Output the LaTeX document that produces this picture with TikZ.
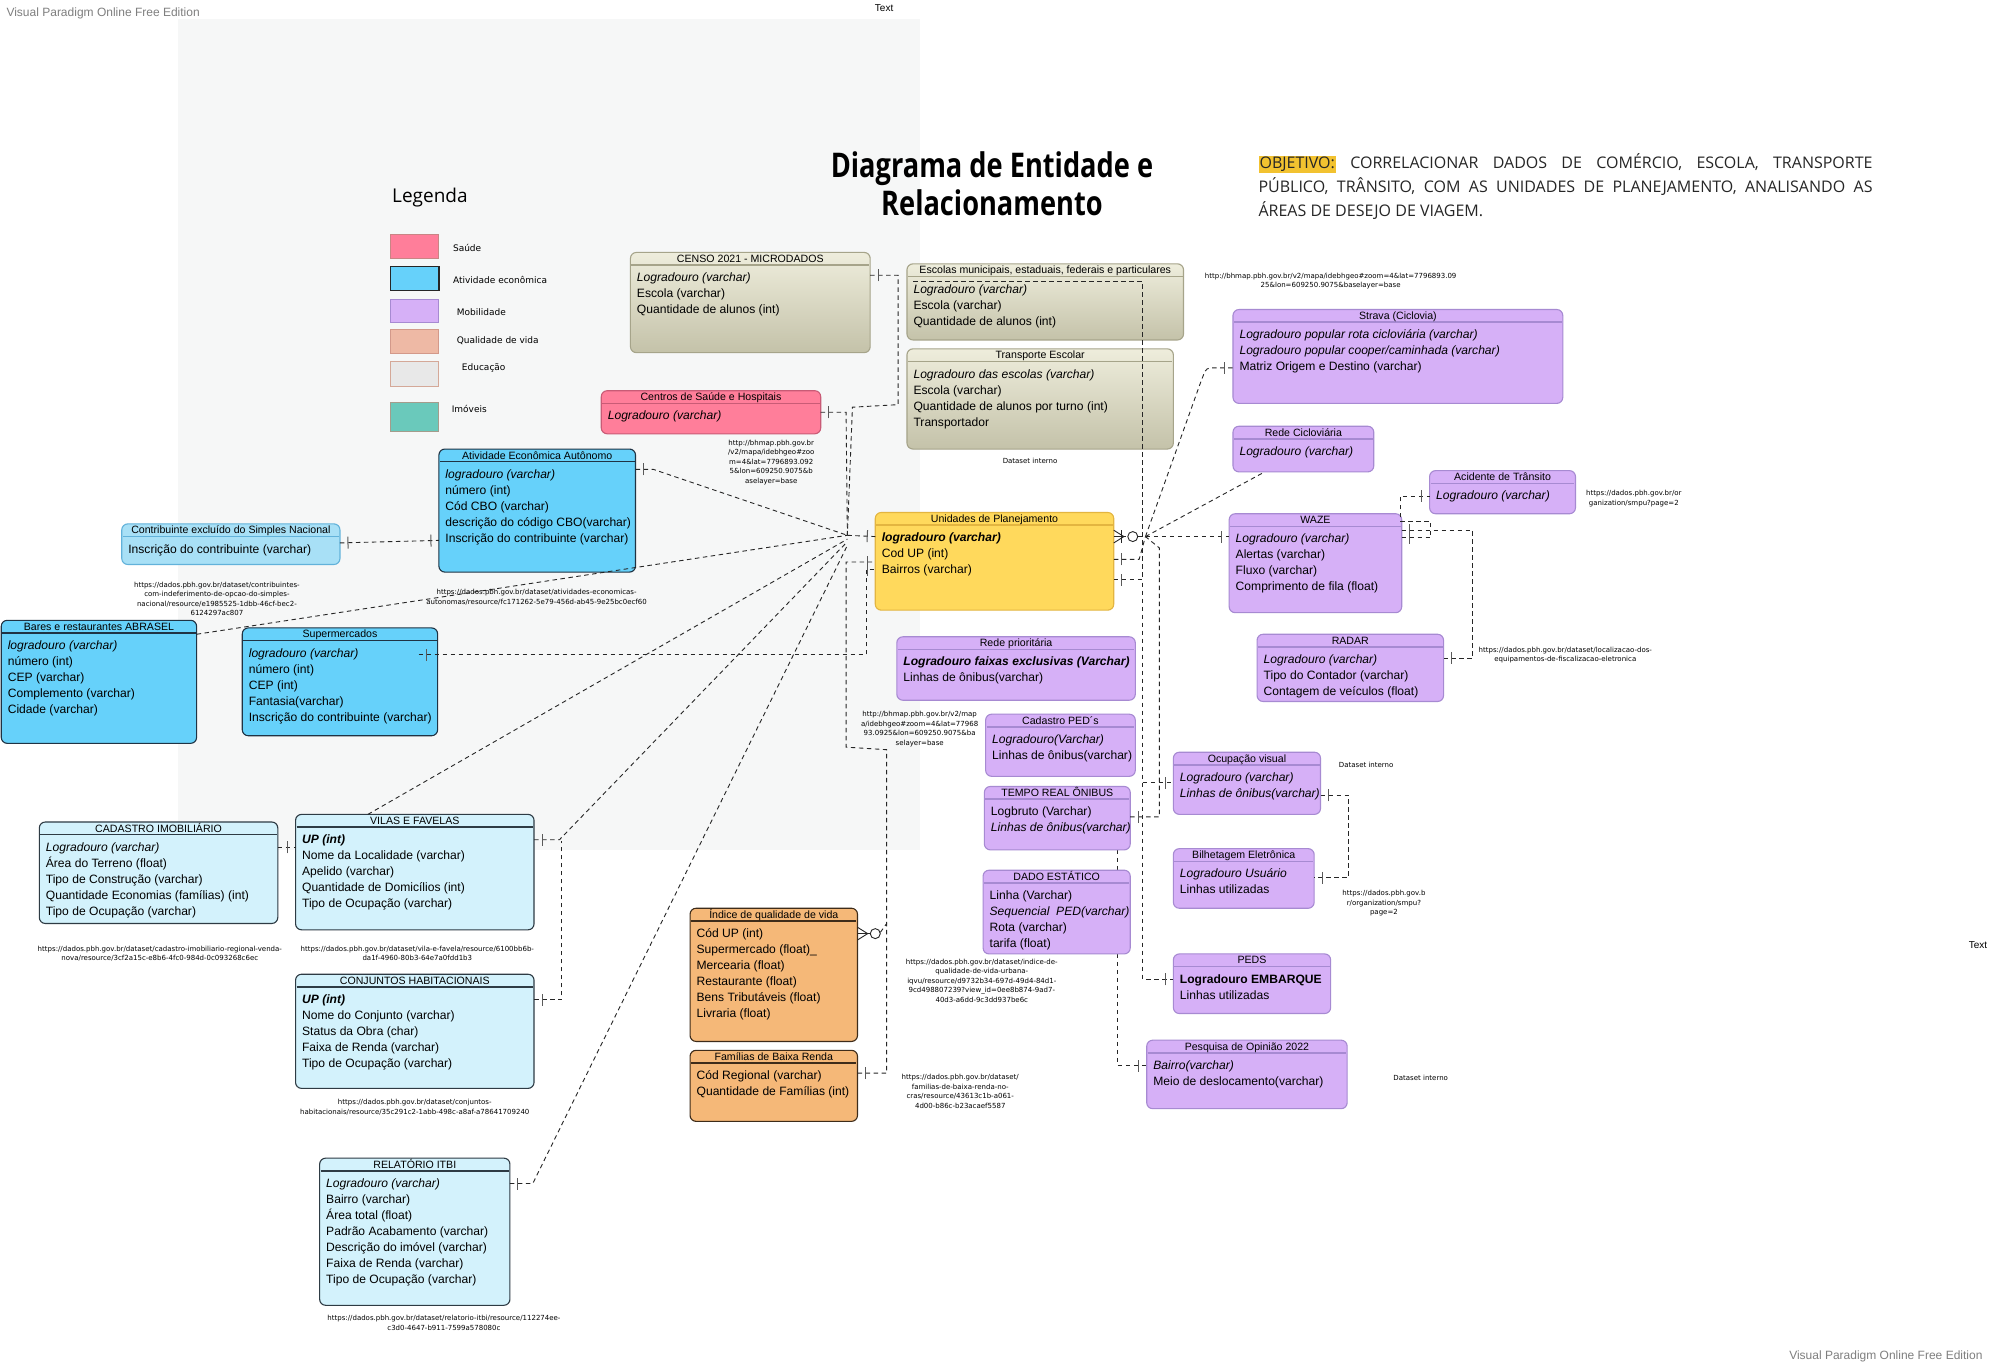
\documentclass[tikz,border=0pt]{standalone}
\usepackage{fontspec}
\setmainfont{Liberation Sans}
\newfontfamily\hdrf{Liberation Sans}
\newfontfamily\smallf{DejaVu Sans}
\newfontfamily\osf{Open Sans}
\newfontfamily\ttlf{Open Sans}[FakeStretch=0.8]
\usetikzlibrary{calc,fit,decorations.markings}
\pgfdeclarelayer{bg}
\pgfsetlayers{bg,main}
\definecolor{lavF}{HTML}{D6B0F7}
\definecolor{lavB}{HTML}{A78AD2}
\definecolor{cyF}{HTML}{66D1FA}
\definecolor{cyB}{HTML}{1F3344}
\definecolor{lcF}{HTML}{D3F2FC}
\definecolor{lcB}{HTML}{2E3B44}
\definecolor{cbF}{HTML}{A8E0F6}
\definecolor{cbB}{HTML}{62B2DA}
\definecolor{ylF}{HTML}{FFD95C}
\definecolor{ylB}{HTML}{E3B540}
\definecolor{pkF}{HTML}{FF7E9A}
\definecolor{pkB}{HTML}{C95B76}
\definecolor{ogF}{HTML}{F5B878}
\definecolor{ogB}{HTML}{3E2C1A}
\definecolor{begT}{HTML}{EEEDDC}
\definecolor{begBot}{HTML}{C4C2A9}
\definecolor{begB}{HTML}{A6A48A}
\definecolor{hiY}{HTML}{F2C230}
\definecolor{vpg}{HTML}{7F7F7F}
\definecolor{paper}{HTML}{F6F7F7}
\newcommand\hdrfont{\hdrf\fontsize{10.6}{12}\selectfont}
\newcommand\rowsfont{\fontsize{12.1}{16}\selectfont}
\newcommand\urlfont{\smallf\fontsize{7}{9.5}\selectfont}
\newcommand\entity[8]{%
  \node[#6, fit={(#2,#3) (#4,#5)}] (#1) {};
  \draw[draw=#6B, line width=1.5pt] ($(#1.north west)+(0.8,10)$) -- ($(#1.north east)+(-0.8,10)$);
  \node[anchor=base, inner sep=0pt, font=\hdrfont] (#1-t) at ($(#1.north)+(0,7.9)$) {#7};
  \node[anchor=base west, inner sep=0pt, font=\rowsfont] (#1-r) at ($(#1.north west)+(5,23)$) {\begin{tabular}[t]{@{}l@{}}#8\end{tabular}};
}
\newcommand\urltext[4]{%
  \node[anchor=base, inner sep=0pt, font=\urlfont] (#1) at (#2,#3) {\begin{tabular}[t]{@{}c@{}}#4\end{tabular}};
}
\begin{document}
\begin{tikzpicture}[x=1.2685pt,y=-1.2685pt,
  ent/.style={rounded corners=6pt, line width=1.1pt, inner sep=0pt, outer sep=0pt},
  lav/.style={ent, draw=lavB, fill=lavF},
  cy/.style={ent, draw=cyB, fill=cyF},
  lc/.style={ent, draw=lcB, fill=lcF},
  cb/.style={ent, draw=cbB, fill=cbF},
  yl/.style={ent, draw=ylB, fill=ylF},
  pk/.style={ent, draw=pkB, fill=pkF},
  og/.style={ent, draw=ogB, fill=ogF},
  beg/.style={ent, draw=begB, top color=begT, bottom color=begBot},
  conn/.style={line width=0.9pt, dash pattern=on 4.5pt off 3.5pt, draw=black!85},
  sbar/.style={postaction={decorate,decoration={markings,mark=at position 8pt with {\draw[solid,line width=1pt,black!65] (0,-6pt)--(0,6pt);}}}},
  ebar/.style={postaction={decorate,decoration={markings,mark=at position -8pt with {\draw[solid,line width=1pt,black!65] (0,-6pt)--(0,6pt);}}}},
  swatch/.style={inner sep=0pt, outer sep=0pt, line width=1pt},
  lgtext/.style={anchor=base west, inner sep=0pt, font=\smallf\fontsize{9}{11}\selectfont},
  crow/.style={line width=0.9pt, draw=black!85},
]
\useasboundingbox (0,0) rectangle (1568,1075);
\begin{pgfonlayer}{bg}
\fill[white] (0,0) rectangle (1568,1075);
\fill[paper] (140,15) rectangle (725,670);
\end{pgfonlayer}

% header texts
\node[anchor=base west, inner sep=0pt, font=\fontsize{12}{14}\selectfont, text=vpg] (vp1) at (5,13) {Visual Paradigm Online Free Edition};
\node[anchor=base east, inner sep=0pt, font=\fontsize{12}{14}\selectfont, text=vpg] (vp2) at (1563,1072) {Visual Paradigm Online Free Edition};
\node[anchor=base, inner sep=0pt, font=\fontsize{10}{12}\selectfont] (txt1) at (697,9) {Text};
\node[anchor=base west, inner sep=0pt, font=\fontsize{10}{12}\selectfont] (txt2) at (1552,748) {Text};

\node[anchor=base, inner sep=0pt, font=\ttlf\bfseries\fontsize{34}{38}\selectfont] (title1) at (782,140) {Diagrama de Entidade e};
\node[anchor=base, inner sep=0pt, font=\ttlf\bfseries\fontsize{34}{38}\selectfont] (title2) at (782,170) {Relacionamento};

\node[anchor=base west, inner sep=0pt, font=\osf\fontsize{16}{24.1}\selectfont, text=black!85] (obj) at (992,133)
 {\parbox[t]{614pt}{{\setlength{\fboxsep}{1pt}\colorbox{hiY}{OBJETIVO:}} CORRELACIONAR DADOS DE COMÉRCIO, ESCOLA, TRANSPORTE\linebreak PÚBLICO, TRÂNSITO, COM AS UNIDADES DE PLANEJAMENTO, ANALISANDO AS\linebreak ÁREAS DE DESEJO DE VIAGEM.}};

% legend
\node[anchor=base west, inner sep=0pt, font=\osf\fontsize{19}{22}\selectfont] (legt) at (309,160) {Legenda};
\node[swatch, fill=pkF, draw={rgb,255:red,201;green,133;blue,133}, fit={(308,185) (346,204)}] (lg1) {};
\node[swatch, fill=cyF, draw=black!85, line width=1.3pt, fit={(308,210) (346,229)}] (lg2) {};
\node[swatch, fill=lavF, draw=lavB, fit={(308,236) (346,254)}] (lg3) {};
\node[swatch, fill={rgb,255:red,238;green,185;blue,165}, draw={rgb,255:red,211;green,153;blue,138}, fit={(308,260) (346,279)}] (lg4) {};
\node[swatch, fill=black!9, draw={rgb,255:red,212;green,168;blue,152}, fit={(308,285) (346,305)}] (lg5) {};
\node[swatch, fill={rgb,255:red,106;green,201;blue,187}, draw={rgb,255:red,164;green,156;blue,140}, fit={(308,317) (346,340)}] (lg6) {};
\node[lgtext] (lt1) at (357,198) {Saúde};
\node[lgtext] (lt2) at (357,223.5) {Atividade econômica};
\node[lgtext] (lt3) at (360,249) {Mobilidade};
\node[lgtext] (lt4) at (360,271) {Qualidade de vida};
\node[lgtext] (lt5) at (364,292) {Educação};
\node[lgtext] (lt6) at (356,325) {Imóveis};

% entities
\entity{censo}{497}{199}{686}{278}{beg}{CENSO 2021 - MICRODADOS}{\textit{Logradouro (varchar)}\\Escola (varchar)\\Quantidade de alunos (int)}
\entity{escolas}{715}{208}{933}{268}{beg}{Escolas municipais, estaduais, federais e particulares}{\textit{Logradouro (varchar)}\\Escola (varchar)\\Quantidade de alunos (int)}
\entity{transp}{715}{275}{925}{354}{beg}{Transporte Escolar}{\textit{Logradouro das escolas (varchar)}\\Escola (varchar)\\Quantidade de alunos por turno (int)\\Transportador}
\entity{centros}{474}{308}{647}{342}{pk}{Centros de Saúde e Hospitais}{\textit{Logradouro (varchar)}}
\entity{ativ}{346}{354}{501}{451}{cy}{Atividade Econômica Autônomo}{\textit{logradouro (varchar)}\\número (int)\\Cód CBO (varchar)\\descrição do código CBO(varchar)\\Inscrição do contribuinte (varchar)}
\entity{contrib}{96}{413}{268}{445}{cb}{Contribuinte excluído do Simples Nacional}{Inscrição do contribuinte (varchar)}
\entity{bares}{1}{489}{155}{586}{cy}{Bares e restaurantes ABRASEL}{\textit{logradouro (varchar)}\\número (int)\\CEP (varchar)\\Complemento (varchar)\\Cidade (varchar)}
\entity{super}{191}{495}{345}{580}{cy}{Supermercados}{\textit{logradouro (varchar)}\\número (int)\\CEP (int)\\Fantasia(varchar)\\Inscrição do contribuinte (varchar)}
\entity{up}{690}{404}{878}{481}{yl}{Unidades de Planejamento}{\textbf{\textit{logradouro (varchar)}}\\Cod UP (int)\\Bairros (varchar)}
\entity{rede}{707}{502}{895}{552}{lav}{Rede prioritária}{\textbf{\textit{Logradouro faixas exclusivas (Varchar)}}\\Linhas de ônibus(varchar)}
\entity{cadped}{777}{563}{895}{612}{lav}{Cadastro PED´s}{\textit{Logradouro(Varchar)}\\Linhas de ônibus(varchar)}
\entity{tempo}{776}{620}{891}{670}{lav}{TEMPO REAL ÔNIBUS}{Logbruto (Varchar)\\\textit{Linhas de ônibus(varchar)}}
\entity{dado}{775}{686}{891}{752}{lav}{DADO ESTÁTICO}{Linha (Varchar)\\\textit{Sequencial\ \ PED(varchar)}\\Rota (varchar)\\tarifa (float)}
\entity{ocup}{925}{593}{1041}{642}{lav}{Ocupação visual}{\textit{Logradouro (varchar)}\\\textit{Linhas de ônibus(varchar)}}
\entity{bilh}{925}{669}{1036}{716}{lav}{Bilhetagem Eletrônica}{\textit{Logradouro Usuário}\\Linhas utilizadas}
\entity{peds}{925}{752}{1049}{799}{lav}{PEDS}{\textbf{Logradouro EMBARQUE}\\Linhas utilizadas}
\entity{pesq}{904}{820}{1062}{874}{lav}{Pesquisa de Opinião 2022}{\textit{Bairro(varchar)}\\Meio de deslocamento(varchar)}
\entity{indice}{544}{716}{676}{821}{og}{Índice de qualidade de vida}{Cód UP (int)\\Supermercado (float)\_\\Mercearia (float)\\Restaurante (float)\\Bens Tributáveis (float)\\Livraria (float)}
\entity{famil}{544}{828}{676}{884}{og}{Famílias de Baixa Renda}{Cód Regional (varchar)\\Quantidade de Famílias (int)}
\entity{strava}{972}{244}{1232}{318}{lav}{Strava (Ciclovia)}{\textit{Logradouro popular rota cicloviária (varchar)}\\\textit{Logradouro popular cooper/caminhada (varchar)}\\Matriz Origem e Destino (varchar)}
\entity{redeciclo}{972}{336}{1083}{372}{lav}{Rede Cicloviária}{\textit{Logradouro (varchar)}}
\entity{acid}{1127}{371}{1242}{405}{lav}{Acidente de Trânsito}{\textit{Logradouro (varchar)}}
\entity{waze}{969}{405}{1105}{483}{lav}{WAZE}{\textit{Logradouro (varchar)}\\Alertas (varchar)\\Fluxo (varchar)\\Comprimento de fila (float)}
\entity{radar}{991}{500}{1138}{553}{lav}{RADAR}{\textit{Logradouro (varchar)}\\Tipo do Contador (varchar)\\Contagem de veículos (float)}
\entity{cadimob}{31}{648}{219}{728}{lc}{CADASTRO IMOBILIÁRIO}{\textit{Logradouro (varchar)}\\Área do Terreno (float)\\Tipo de Construção (varchar)\\Quantidade Economias (famílias) (int)\\Tipo de Ocupação (varchar)}
\entity{vilas}{233}{642}{421}{733}{lc}{VILAS E FAVELAS}{\textbf{\textit{UP (int)}}\\Nome da Localidade (varchar)\\Apelido (varchar)\\Quantidade de Domicílios (int)\\Tipo de Ocupação (varchar)}
\entity{conj}{233}{768}{421}{858}{lc}{CONJUNTOS HABITACIONAIS}{\textbf{\textit{UP (int)}}\\Nome do Conjunto (varchar)\\Status da Obra (char)\\Faixa de Renda (varchar)\\Tipo de Ocupação (varchar)}
\entity{itbi}{252}{913}{402}{1029}{lc}{RELATÓRIO ITBI}{\textit{Logradouro (varchar)}\\Bairro (varchar)\\Área total (float)\\Padrão Acabamento (varchar)\\Descrição do imóvel (varchar)\\Faixa de Renda (varchar)\\Tipo de Ocupação (varchar)}

% notes / urls
\urltext{u1}{1049}{219.5}{http://bhmap.pbh.gov.br/v2/mapa/idebhgeo\#zoom=4\&lat=7796893.09\\25\&lon=609250.9075\&baselayer=base}
\urltext{u2}{608}{351}{http://bhmap.pbh.gov.br\\/v2/mapa/idebhgeo\#zoo\\m=4\&lat=7796893.092\\5\&lon=609250.9075\&b\\aselayer=base}
\urltext{u3}{812}{365}{Dataset interno}
\urltext{u4}{1077}{605}{Dataset interno}
\urltext{u5}{1120}{852}{Dataset interno}
\urltext{u6}{171}{463}{https://dados.pbh.gov.br/dataset/contribuintes-\\com-indeferimento-de-opcao-do-simples-\\nacional/resource/e1985525-1dbb-46cf-bec2-\\6124297ac807}
\urltext{u7}{423}{469}{https://dados.pbh.gov.br/dataset/atividades-economicas-\\autonomas/resource/fc171262-5e79-456d-ab45-9e25bc0ecf60}
\urltext{u8}{725}{565}{http://bhmap.pbh.gov.br/v2/map\\a/idebhgeo\#zoom=4\&lat=77968\\93.0925\&lon=609250.9075\&ba\\selayer=base}
\urltext{u9}{774}{760}{https://dados.pbh.gov.br/dataset/indice-de-\\qualidade-de-vida-urbana-\\iqvu/resource/d9732b34-697d-49d4-84d1-\\9cd498807239?view\_id=0ee8b874-9ad7-\\40d3-a6dd-9c3dd937be6c}
\urltext{u10}{757}{851}{https://dados.pbh.gov.br/dataset/\\familias-de-baixa-renda-no-\\cras/resource/43613c1b-a061-\\4d00-b86c-b23acaef5587}
\urltext{u11}{1091}{706}{https://dados.pbh.gov.b\\r/organization/smpu?\\page=2}
\urltext{u12}{1288}{391}{https://dados.pbh.gov.br/or\\ganization/smpu?page=2}
\urltext{u13}{1234}{514}{https://dados.pbh.gov.br/dataset/localizacao-dos-\\equipamentos-de-fiscalizacao-eletronica}
\urltext{u14}{126}{750}{https://dados.pbh.gov.br/dataset/cadastro-imobiliario-regional-venda-\\nova/resource/3cf2a15c-e8b6-4fc0-984d-0c093268c6ec}
\urltext{u15}{329}{750}{https://dados.pbh.gov.br/dataset/vila-e-favela/resource/6100bb6b-\\da1f-4960-80b3-64e7a0fdd1b3}
\urltext{u16}{327}{871}{https://dados.pbh.gov.br/dataset/conjuntos-\\habitacionais/resource/35c291c2-1abb-498c-a8af-a78641709240}
\urltext{u17}{350}{1041}{https://dados.pbh.gov.br/dataset/relatorio-itbi/resource/112274ee-\\c3d0-4647-b911-7599a578080c}

% connector behind boxes
\begin{pgfonlayer}{bg}
\draw[conn,ebar] ($(tempo.south east)+(-10,0)$) -- (881,840) -- ($(pesq.north west)+(0,20)$);
\end{pgfonlayer}

% hubs
\coordinate (hl) at (668,422);
\coordinate (hr) at (903,423);
\coordinate (tr) at (901,617);

% left connectors
\draw[conn,ebar] (hl) -- ($(up.north west)+(0,19)$);
\draw[conn,sbar] ($(centros.north east)+(0,17)$) -- (667,325) -- (hl);
\draw[conn,sbar] ($(censo.north east)+(0,18)$) -- (708,217) -- (708,319) -- (672,321) -- (hl);
\draw[conn,sbar] ($(ativ.north east)+(0,16)$) -- ++(14,0) -- (hl);
\draw[conn] ($(bares.north east)+(0,11)$) -- (hl);
\draw[conn,sbar,ebar] ($(contrib.north east)+(0,15)$) -- ($(ativ.north west)+(0,72)$);
\draw[conn,sbar,ebar] ($(super.north east)+(-15,21)$) -- (683,516) -- (683,449) -- ($(up.north west)+(0,45)$);
\draw[conn,sbar,ebar] ($(famil.north east)+(0,18)$) -- (699,846) -- (699,591) -- (667,589) -- (667,443) -- ($(up.north west)+(0,39)$);
\draw[conn] ($(indice.north east)+(18,19)$) -- (699,728);
\draw[conn,sbar] ($(itbi.north east)+(0,20)$) -- ++(18,0) -- (668,430);
\draw[conn,sbar] ($(vilas.north east)+(0,20)$) -- ++(20,0) -- (668,427);
\draw[conn,sbar] ($(conj.north east)+(0,20)$) -- (443,788) -- (443,663);
\draw[conn,ebar] ($(cadimob.north east)+(0,20)$) -- ($(vilas.north west)+(0,26)$);
\draw[conn] ($(vilas.north west)+(57,0)$) -- (668,425);

% crow's foot at Indice
\draw[crow] ($(indice.north east)+(0,15)$) -- ($(indice.north east)+(8,20)$) -- ($(indice.north east)+(0,25)$);
\draw[crow] ($(indice.north east)+(0,20)$) -- ($(indice.north east)+(10,20)$);
\draw[crow, fill=white] ($(indice.north east)+(14,20)$) circle[radius=5pt];

% right connectors
\draw[conn,ebar] ($(up.north east)+(0,19)$) -- ($(waze.north west)+(0,18)$);
\draw[crow] ($(up.north east)+(0,14)$) -- ($(up.north east)+(8,19)$) -- ($(up.north east)+(0,24)$);
\draw[crow] ($(up.north east)+(0,19)$) -- ($(up.north east)+(10,19)$);
\draw[crow] ($(up.north east)+(6,14)$) -- ($(up.north east)+(6,24)$);
\draw[crow, fill=white] ($(up.north east)+(15,19)$) circle[radius=5pt];
\draw[conn] (hr) -- ($(redeciclo.south west)+(25,0)$);
\draw[conn,ebar,rounded corners=4pt] (hr) -- (947,300) -- (951,290) -- ($(strava.north west)+(0,46)$);
\draw[conn,sbar] ($(up.north east)+(0,37)$) -- (898,441) -- (hr);
\draw[conn,sbar,ebar] ($(up.north east)+(0,53)$) -- (901,457) -- (901,772) -- ($(peds.north west)+(0,20)$);
\draw[conn] ($(escolas.north west)+(5,14)$) -- (901,222) -- (901,457);
\draw[conn,ebar] (tr) -- ($(ocup.north west)+(0,24)$);
\draw[conn,sbar] ($(tempo.north east)+(0,24)$) -- (914,644) -- (914,432) -- (hr);
\draw[conn,sbar,ebar] ($(ocup.north east)+(0,34)$) -- (1063,627) -- (1063,692) -- ($(bilh.north east)+(0,23)$);
\draw[conn,sbar,ebar] ($(waze.north east)+(0,19)$) -- (1128,424) -- (1128,411) -- (1104,411) -- (1104,391) -- ($(acid.north west)+(0,20)$);
\draw[conn,sbar,ebar] ($(waze.north east)+(0,13)$) -- (1161,418) -- (1161,519) -- ($(radar.north east)+(0,19)$);
\end{tikzpicture}
\end{document}
